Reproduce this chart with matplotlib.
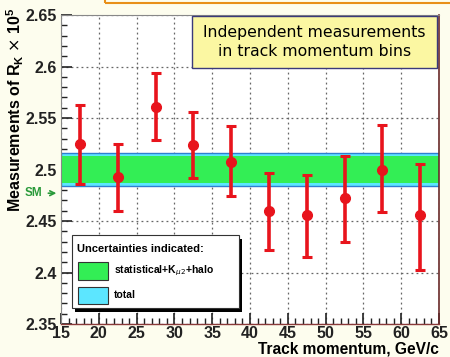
import matplotlib

matplotlib.use("Agg")
import matplotlib.pyplot as plt
from matplotlib.patches import Rectangle
from matplotlib.ticker import MultipleLocator

# momentum bin centres (GeV/c) and R_K x 10^5 measurements
p_bins = [17.5, 22.5, 27.5, 32.5, 37.5, 42.5, 47.5, 52.5, 57.5, 62.5]
rk = [2.525, 2.493, 2.561, 2.524, 2.507, 2.460, 2.456, 2.472, 2.500, 2.456]
err_up = [0.038, 0.032, 0.033, 0.032, 0.035, 0.037, 0.039, 0.041, 0.043, 0.049]
err_dn = [0.039, 0.033, 0.032, 0.032, 0.033, 0.038, 0.041, 0.042, 0.041, 0.054]

# combined result and its uncertainty bands
rk_mean = 2.500
err_stat = 0.013
err_total = 0.016
rk_sm = 2.477

bg = "#fdfdee"
fig = plt.figure(figsize=(4.5, 3.57), dpi=100, facecolor=bg)
ax = fig.add_axes([0.1356, 0.0924, 0.84, 0.8655])
ax.set_facecolor("white")

ax.set_xlim(15, 65)
ax.set_ylim(2.35, 2.65)

# bands
ax.axhspan(rk_mean - err_total, rk_mean + err_total, facecolor="#5ce6ff",
           edgecolor="#2f7fd0", lw=1.0, zorder=1)
ax.axhspan(rk_mean - err_stat, rk_mean + err_stat, facecolor="#33ee55",
           edgecolor="none", zorder=1.5)

ax.errorbar(p_bins, rk, yerr=[err_dn, err_up], fmt="o", color="#e8141c",
            ms=7, elinewidth=2.6, capsize=3.5, capthick=2.2, zorder=4)

# ticks / grid, ROOT-like
bold = dict(family="Liberation Sans", weight="bold")
ax.xaxis.set_minor_locator(MultipleLocator(1))
ax.yaxis.set_minor_locator(MultipleLocator(0.01))
ax.tick_params(which="both", direction="in", top=False, right=False, colors="#222222")
ax.tick_params(which="major", length=8, width=1.2, pad=3)
ax.tick_params(axis="x", which="major", pad=1.5)
ax.tick_params(which="minor", length=4, width=1.0)
xt = list(range(15, 70, 5))
yt = [2.35, 2.4, 2.45, 2.5, 2.55, 2.6, 2.65]
ax.set_xticks(xt)
ax.set_xticklabels([str(v) for v in xt], fontsize=11.5, **bold)
ax.set_yticks(yt)
ax.set_yticklabels(["2.35", "2.4", "2.45", "2.5", "2.55", "2.6", "2.65"],
                   fontsize=11.5, **bold)
ax.grid(True, which="major", ls=(0, (1.5, 2.5)), color="#666666", lw=0.9, zorder=0)
ax.set_axisbelow(True)
for side in ["left", "top"]:
    ax.spines[side].set_color("#888888")
    ax.spines[side].set_linewidth(0.8)
ax.spines["right"].set_color("#6a2a2a")
ax.spines["right"].set_linewidth(1.2)
ax.spines["bottom"].set_color("#8a3a3a")
ax.spines["bottom"].set_linewidth(1.0)

# axis titles
fig.text(0.034, 0.978, r"Measurements of R$_\mathregular{K}$ $\times$ 10$^\mathregular{5}$",
         rotation=90, ha="center", va="top", fontsize=11.5, **bold)
fig.text(0.975, 0.0085, "Track momentum, GeV/c", ha="right", va="baseline",
         fontsize=11.2, **bold)

# SM arrow
ax.annotate("SM", xy=(-0.005, rk_sm), xycoords=ax.get_yaxis_transform(),
            xytext=(-0.095, rk_sm), textcoords=ax.get_yaxis_transform(),
            ha="left", va="center", color="#2a9a3a", fontsize=8.5, **bold,
            arrowprops=dict(arrowstyle="->", color="#2a9a3a", lw=1.2))

# info box
ax.text(0.671, 0.912, "Independent measurements\nin track momentum bins",
        transform=ax.transAxes, ha="center", va="center", fontsize=11.3,
        family="DejaVu Sans", linespacing=1.3, zorder=6)
ax.add_patch(Rectangle((0.347, 0.828), 0.648, 0.169, transform=ax.transAxes,
                       facecolor="#fbf7a2", edgecolor="#3a3a7a", lw=1.0, zorder=5))

# uncertainty legend box with shadow
ax.add_patch(Rectangle((0.037, 0.040), 0.442, 0.236, transform=ax.transAxes,
                       facecolor="black", edgecolor="none", zorder=5))
ax.add_patch(Rectangle((0.029, 0.052), 0.442, 0.236, transform=ax.transAxes,
                       facecolor="white", edgecolor="#333333", lw=0.8, zorder=6))
ax.text(0.042, 0.244, "Uncertainties indicated:", transform=ax.transAxes,
        ha="left", va="center", fontsize=8, zorder=7, **bold)
ax.add_patch(Rectangle((0.045, 0.142), 0.08, 0.058, transform=ax.transAxes,
                       facecolor="#33ee55", edgecolor="#333333", lw=0.8, zorder=7))
ax.add_patch(Rectangle((0.045, 0.065), 0.08, 0.055, transform=ax.transAxes,
                       facecolor="#5ce6ff", edgecolor="#333333", lw=0.8, zorder=7))
ax.text(0.14, 0.171, r"statistical+K$_{\mu2}$+halo", transform=ax.transAxes,
        ha="left", va="center", fontsize=7.5, zorder=7, **bold)
ax.text(0.14, 0.093, "total", transform=ax.transAxes,
        ha="left", va="center", fontsize=7.5, zorder=7, **bold)

# orange frame edge at the top
fig.patches.append(Rectangle((105 / 450, 1 - 3 / 357), 1.0, 0.05,
                             transform=fig.transFigure, facecolor="none",
                             edgecolor="#e8901a", lw=1.5))

fig.savefig("out.png", dpi=100, facecolor=bg)
